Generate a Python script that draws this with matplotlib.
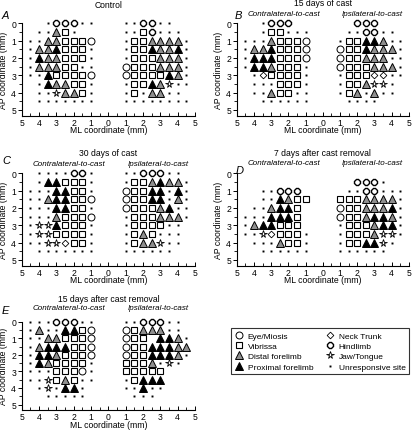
import matplotlib
matplotlib.use("Agg")
import matplotlib.pyplot as plt
from matplotlib.lines import Line2D
from matplotlib.ticker import MultipleLocator, FuncFormatter

plt.rcParams['font.family'] = ['Liberation Sans', 'DejaVu Sans']

# grid of stimulation sites (0.5 mm spacing)
AP_ROWS = [0, 0.5, 1, 1.5, 2, 2.5, 3, 3.5, 4, 4.5]
ML_LEFT = [4.5, 4, 3.5, 3, 2.5, 2, 1.5, 1]
ML_RIGHT = [1, 1.5, 2, 2.5, 3, 3.5, 4, 4.5]

# o eye, s vibrissa, t distal forelimb, T proximal forelimb,
# d neck trunk, h hindlimb, j jaw/tongue, . unresponsive
A_left = ["  .hhh..", " ..ts.  ", "..ttssso", ".ttTsss.", ".Tttsss.",
          ".tttss..", "..Tsssso", " .Tttss.", " ..jtts.", " ......."]
A_right = ["..hh..  ", "..sh... ", ".sstttt.", ".ssTttT.", ".sssttt.",
           "osssttt.", "ossssTt.", ".ssTtj..", ".s.tt.. ", "........"]
B_left = ["  .hhh  ", "  .ss...", "...tssso", ".ttTssso", ".TTTssso",
          ".TTtsss.", " .dssss.", " ...sss.", " ..tss..", "  ......"]
B_right = ["  hhh   ", " ..hh.. ", ".ssTTt..", "ossTttt.", "ossttt..",
           "osssttt.", ".sssdd..", ".sstjj. ", ".st.t.. ", " ....   "]
C_left = [" ....hh.", " .TTsss.", "...TTss.", "..tTTsso", "...TTss.",
          "...tssso", ".jjTsss.", ".jjssss.", "..jjdss.", " ......."]
C_right = ["..hhh.. ", ".sstTtt.", "ossTT.T.", "ossTT.t.", "ossstT..",
           ".sssttt.", ".ssss.. ", ".sts... ", ".sttj.. ", "......  "]
D_left = ["        ", "        ", "  ..hhh ", "  ..Ttss", " ..tTTs ",
          "...TTTs ", ".tTTsss ", "..jdsss.", " ...tss.", "  ......"]
D_right = ["        ", "  hhh.  ", " ..hh...", "ssstttt.", "osstttT.",
           "osstTTt.", ".ssstTT.", ".ssstjj.", ".ssTTj. ", "......  "]
E_left = ["...hhh..", ".t..TTso", "..ttssso", ".tTTTsso", ".TTtssso",
          ".Ttssss.", "...ssso.", "..jsts..", " .j.TT. ", "  ..... "]
E_right = ["..hhh.. ", "osttt.. ", "oss TTt.", "ossTTTtt", "ossTTTt.",
           "ssst.j. ", "sssss   ", ".sTTT   ", "..T..   ", " ...    "]

PANELS = ["A", "B", "C", "D", "E"]
TITLES = ["Control", "15 days of cast", "30 days of cast",
          "7 days after cast removal", "15 days after cast removal"]
MAPS = [(A_left, A_right), (B_left, B_right), (C_left, C_right),
        (D_left, D_right), (E_left, E_right)]

LEGEND_CODES = ["o", "s", "t", "T", "d", "h", "j", "."]
LEGEND_LABELS = ["Eye/Miosis", "Vibrissa", "Distal forelimb", "Proximal forelimb",
                 "Neck Trunk", "Hindlimb", "Jaw/Tongue", "Unresponsive site"]

STYLES = {
    "o": dict(marker="o", ms=5.0, mfc="white", mec="black", mew=0.7),
    "s": dict(marker="s", ms=4.8, mfc="white", mec="black", mew=0.8),
    "t": dict(marker="^", ms=5.2, mfc="#8e8e8e", mec="black", mew=0.7),
    "T": dict(marker="^", ms=5.2, mfc="black", mec="black", mew=0.7),
    "d": dict(marker="D", ms=3.4, mfc="white", mec="black", mew=0.6),
    "h": dict(marker="8", ms=5.2, mfc="white", mec="black", mew=1.0),
    "j": dict(marker="*", ms=5.5, mfc="white", mec="black", mew=0.6),
    ".": dict(marker="s", ms=1.4, mfc="black", mec="black", mew=0),
}

W, H = 412, 431
# axes boxes in pixels: x0, x1, y_top, y_bottom
BOXES = [(21.7, 195, 24.3, 116.7), (236.7, 408.7, 24.3, 116.7),
         (21.7, 195, 174.3, 266.7), (236.7, 408.7, 174.3, 266.7),
         (21.7, 195, 322.7, 411)]
# panel letter positions (pixels)
LETTER_XY = [(2, 16), (235, 16), (2, 161), (236, 171), (2, 311)]
TITLE_Y = [6, 4, 153, 154, 300]
SUB_Y = [None, 15, 164, 163.5, 309]

fig = plt.figure(figsize=(W / 100, H / 100), dpi=100)


def draw_map(ax, rows_left, rows_right):
    for rows, mls, sign in ((rows_left, ML_LEFT, -1), (rows_right, ML_RIGHT, 1)):
        for code, style in STYLES.items():
            xs, ys = [], []
            for ap, row in zip(AP_ROWS, rows):
                for ml, c in zip(mls, row):
                    if c == code:
                        xs.append(sign * ml)
                        ys.append(ap)
            if xs:
                ax.plot(xs, ys, linestyle="none", clip_on=False, **style)


for i, (x0, x1, yt, yb) in enumerate(BOXES):
    ax = fig.add_axes([x0 / W, 1 - yb / H, (x1 - x0) / W, (yb - yt) / H])
    draw_map(ax, *MAPS[i])
    ax.set_xlim(-5, 5)
    ax.set_ylim(5.33, 0)
    for a in (ax.xaxis, ax.yaxis):
        a.set_major_locator(MultipleLocator(1))
        a.set_minor_locator(MultipleLocator(0.5))
    ax.xaxis.set_major_formatter(FuncFormatter(lambda v, p: f"{abs(v):g}"))
    ax.tick_params(which="major", length=3, width=0.7, labelsize=6.2, pad=1)
    ax.tick_params(which="minor", length=2, width=0.6)
    ax.tick_params(axis="x", which="both", direction="in", pad=1.5)
    for s in ("top", "right"):
        ax.spines[s].set_visible(False)
    for s in ("left", "bottom"):
        ax.spines[s].set_linewidth(0.8)
    ax.set_xlabel("ML coordinate (mm)", fontsize=6.2, labelpad=-1)
    ax.set_ylabel("AP coordinate (mm)", fontsize=6.2, labelpad=2)

    xc = (x0 + x1) / 2
    fig.text(xc / W, 1 - TITLE_Y[i] / H, TITLES[i], ha="center", va="center",
             fontsize=6.2)
    lx, ly = LETTER_XY[i]
    fig.text(lx / W, 1 - ly / H, PANELS[i], ha="left", va="center",
             fontsize=8, style="italic")
    if SUB_Y[i] is not None:
        fig.text((xc - 39) / W, 1 - SUB_Y[i] / H, "Contralateral-to-cast",
                 ha="center", va="center", fontsize=5.8, style="italic")
        fig.text((xc + 50) / W, 1 - SUB_Y[i] / H, "Ipsilateral-to-cast",
                 ha="center", va="center", fontsize=5.8, style="italic")

handles = [Line2D([], [], linestyle="none", **STYLES[c]) for c in LEGEND_CODES]
leg = fig.legend(handles, LEGEND_LABELS, ncol=2, loc="upper left",
                 bbox_to_anchor=(231 / W, 1 - 329 / H), fontsize=6.0,
                 frameon=True, fancybox=False, edgecolor="black",
                 handlelength=1.0, handletextpad=0.55, columnspacing=1.5,
                 labelspacing=0.3, borderpad=0.45, borderaxespad=0)
leg.get_frame().set_linewidth(0.8)

fig.savefig("out.png", dpi=100)
